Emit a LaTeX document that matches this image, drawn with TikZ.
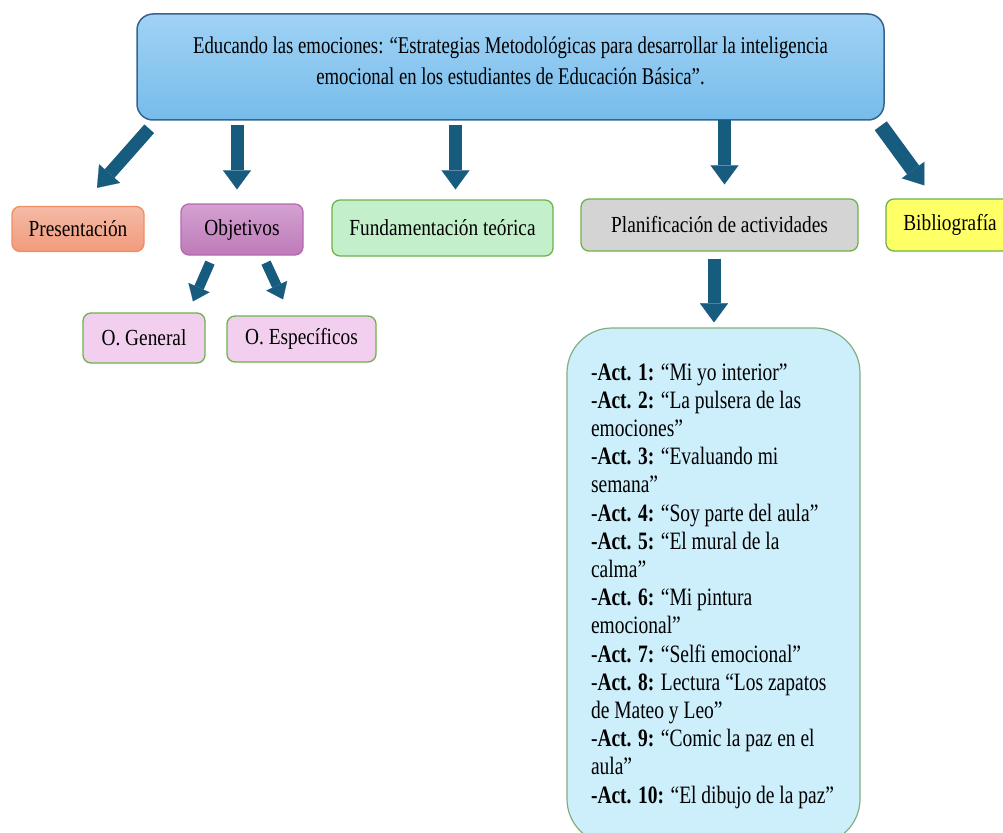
\documentclass[tikz,border=0pt]{standalone}
\usepackage{fontspec}
\setmainfont{Liberation Serif}[FakeStretch=0.78]
\newfontfamily\labelfont{Liberation Serif}[FakeStretch=0.84]
\usetikzlibrary{arrows.meta,calc}

\definecolor{topline}{HTML}{35648F}
\definecolor{toptop}{HTML}{A0D2F5}
\definecolor{topbottom}{HTML}{76BCEA}
\definecolor{arrowblue}{HTML}{175B7E}
\definecolor{boxgreen}{HTML}{6DB24A}
\definecolor{presline}{HTML}{EE8E62}
\definecolor{prestop}{HTML}{F5BAA6}
\definecolor{presbottom}{HTML}{F19B7C}
\definecolor{objline}{HTML}{B868B1}
\definecolor{objtop}{HTML}{D4A1D2}
\definecolor{objbottom}{HTML}{BE7BB8}
\definecolor{fundfill}{HTML}{C3F0CA}
\definecolor{planfill}{HTML}{D4D4D4}
\definecolor{bibfill}{HTML}{FFFF66}
\definecolor{subfill}{HTML}{F2CFEE}
\definecolor{actfill}{HTML}{CDEEFB}
\definecolor{actline}{HTML}{82AE82}

\begin{document}
\begin{tikzpicture}[x=1pt,y=-1pt,
    box/.style={draw=boxgreen, line width=1.3pt, rounded corners=8pt, inner sep=0pt,
      font=\labelfont\fontsize{23}{27}\selectfont},
    bigarrow/.style={draw=arrowblue, line width=13pt,
      -{Triangle[width=28pt,length=19pt,line width=0.1pt]}},
    smallarrow/.style={draw=arrowblue, line width=10pt,
      -{Triangle[width=23pt,length=15pt,line width=0.1pt]}}]
  \useasboundingbox (0,0) rectangle (1003,832);

  \node[draw=topline, line width=1.5pt, rounded corners=16pt, top color=toptop,
    bottom color=topbottom, minimum width=747pt, minimum height=106pt, align=flush center,
    text height=48pt, text depth=12pt, font=\fontsize{24}{32}\selectfont]
    (top) at (510.5,67) {Educando las emociones: “Estrategias Metodológicas para desarrollar la inteligencia\\
    emocional en los estudiantes de Educación Básica”.};

  \node[box, draw=presline, top color=prestop, bottom color=presbottom,
    minimum width=132pt, minimum height=45pt] (pres) at (78,229) {Presentación};
  \node[box, draw=objline, top color=objtop, bottom color=objbottom,
    minimum width=122pt, minimum height=51pt] (obj) at (242,229.5) {Objetivos};
  \node[box, fill=fundfill, minimum width=221pt, minimum height=56pt] (fund) at (442.5,228)
    {Fundamentación teórica};
  \node[box, fill=planfill, minimum width=277pt, minimum height=52pt] (plan) at (719.5,225)
    {Planificación de actividades};
  \node[box, fill=bibfill, minimum width=128pt, minimum height=52pt] (bib) at (950,225)
    {Bibliografía};

  \node[box, fill=subfill, minimum width=122pt, minimum height=50pt] (ogen) at (144,338)
    {O. General};
  \node[box, fill=subfill, minimum width=149pt, minimum height=46pt] (oesp) at (301.5,339)
    {O. Específicos};

  \node[draw=actline, line width=1.2pt, fill=actfill, rounded corners=45pt,
    text width=245pt, inner xsep=24pt, minimum height=516pt, align=flush left,
    font=\fontsize{25}{28.2}\selectfont] (acts) at (713.5,586)
    {-\textbf{Act. 1:} “Mi yo interior”\\
     -\textbf{Act. 2:} “La pulsera de las\\
     emociones”\\
     -\textbf{Act. 3:} “Evaluando mi\\
     semana”\\
     -\textbf{Act. 4:} “Soy parte del aula”\\
     \textbf{-Act. 5:} “El mural de la\\
     calma”\\
     -\textbf{Act. 6:} “Mi pintura\\
     emocional”\\
     -\textbf{Act. 7:} “Selfi emocional”\\
     -\textbf{Act. 8:} Lectura “Los zapatos\\
     de Mateo y Leo”\\
     -\textbf{Act. 9:} “Comic la paz en el\\
     aula”\\
     \textbf{-Act. 10:} “El dibujo de la paz”};

  \draw[bigarrow] ($(top.south west)+(13,8)$) -- ($(pres.north)+(19,-18)$);
  \draw[bigarrow] ($(obj.north |- top.south)+(-5,4)$) -- ($(obj.north)+(-5,-14)$);
  \draw[bigarrow] ($(fund.north |- top.south)+(13,4)$) -- ($(fund.north)+(13,-10)$);
  \draw[bigarrow] ($(plan.north |- top.south)+(5,-1)$) -- ($(plan.north)+(5,-14)$);
  \draw[bigarrow, line width=15pt] ($(top.south east)+(-4,5)$) -- ($(bib.north west)+(39,-13)$);
  \draw[bigarrow] ($(plan.south)+(-5.5,7)$) -- ($(acts.north)+(0.5,-5)$);

  \draw[smallarrow] ($(obj.south)+(-32,7)$) -- ($(ogen.north)+(49,-11)$);
  \draw[smallarrow] ($(obj.south)+(24,7)$) -- ($(oesp.north)+(-18.5,-16)$);
\end{tikzpicture}
\end{document}
